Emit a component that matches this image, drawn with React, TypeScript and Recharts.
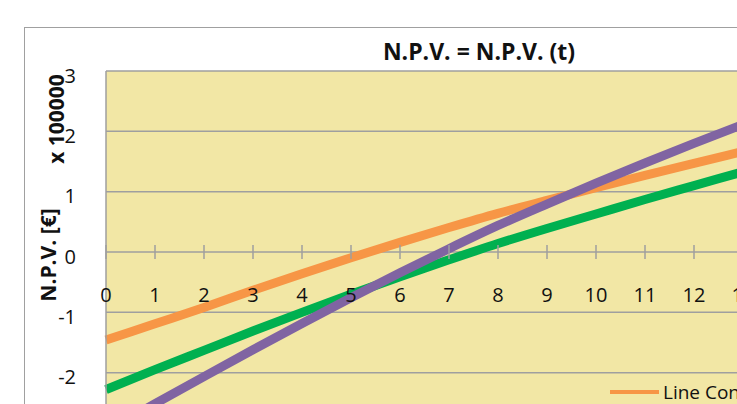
import React from 'react';
import {
  LineChart,
  Line,
  XAxis,
  YAxis,
  CartesianGrid,
  Legend,
  ReferenceDot,
  Label
} from 'recharts';

// years on the x axis
const years = [0, 1, 2, 3, 4, 5, 6, 7, 8, 9, 10, 11, 12, 13, 14];

// N.P.V. in units of 100000 €
const npvLine1 = [-1.46, -1.19, -0.92, -0.635, -0.36, -0.095, 0.16, 0.405, 0.64, 0.855, 1.065, 1.27, 1.47, 1.665, 1.86];
const npvLine2 = [-2.28, -1.95, -1.63, -1.31, -1.0, -0.7, -0.41, -0.13, 0.14, 0.39, 0.63, 0.87, 1.1, 1.33, 1.56];
const npvLine3 = [-2.97, -2.515, -2.065, -1.62, -1.185, -0.76, -0.345, 0.055, 0.44, 0.795, 1.14, 1.475, 1.8, 2.115, 2.42];

const seriesNames = ['Line Construction 1', 'Line Construction 2', 'Line Construction 3'];
const yTicks = [-3, -2, -1, 0, 1, 2, 3];

const FONT = '"Open Sans", Calibri, sans-serif';

const colors = {
  line1: '#F79646',
  line2: '#00B050',
  line3: '#8064A2',
  plot: '#F2E7A5',
  grid: '#9F9F9F',
  text: '#111'
};

const data = years.map((t, i) => ({
  t,
  line1: npvLine1[i],
  line2: npvLine2[i],
  line3: npvLine3[i]
}));

// tick mark crossing the zero line plus the year label under it
const YearTick = ({ cx, cy, payload }: any) => (
  <g>
    <line x1={cx} x2={cx} y1={cy - 7} y2={cy + 7} stroke={colors.grid} strokeWidth={1.5} />
    <text x={cx} y={cy + 50} textAnchor="middle" fontSize={20} fontFamily={FONT} fill={colors.text}>
      {payload}
    </text>
  </g>
);

const YAxisTitle = ({ viewBox }: any) => {
  const { x, y, height } = viewBox;
  return (
    <g fontFamily={FONT} fontWeight="bold" fontSize={21} fill={colors.text}>
      <text transform={`translate(${x + 24}, ${y + height / 2 + 3}) rotate(-90)`} textAnchor="middle" dominantBaseline="central">
        N.P.V. [€]
      </text>
      <text transform={`translate(${x + 32}, ${y + 48}) rotate(-90)`} textAnchor="middle" dominantBaseline="central">
        x 100000
      </text>
    </g>
  );
};

const YTickLabel = ({ x, y, payload }: any) => (
  <text x={x} y={y + 4} textAnchor="end" dominantBaseline="central" fontSize={20} fontFamily={FONT} fill={colors.text}>
    {payload.value}
  </text>
);

const NpvLegend = ({ payload }: any) => (
  <div style={{ display: 'flex', flexDirection: 'column', fontFamily: FONT, fontSize: 19, color: colors.text }}>
    {payload.map((p: any) => (
      <div key={p.value} style={{ display: 'flex', alignItems: 'center', height: 26, whiteSpace: 'nowrap' }}>
        <span style={{ display: 'inline-block', width: 49, height: 4, background: p.color, marginRight: 4 }} />
        <span>{p.value}</span>
      </div>
    ))}
  </div>
);

export default function App() {
  return (
    <div style={{ position: 'fixed', left: 0, top: 0, width: 737, height: 404, overflow: 'hidden', background: '#fff' }}>
      <div style={{ position: 'absolute', left: 24, top: 27, width: 900, height: 600, border: '1px solid #A0A0A0' }} />
      <div
        style={{
          position: 'absolute',
          left: 0,
          top: 35,
          width: 958,
          textAlign: 'center',
          fontFamily: FONT,
          fontWeight: 'bold',
          fontSize: 23,
          lineHeight: '32px',
          color: colors.text
        }}
      >
        N.P.V. = N.P.V. (t)
      </div>
      <div style={{ position: 'absolute', left: 0, top: 0 }}>
        <LineChart width={1000} height={600} data={data} margin={{ top: 71, right: 208, bottom: 167, left: 24 }}>
          <CartesianGrid vertical={false} stroke={colors.grid} strokeWidth={1.5} fill={colors.plot} />
          <XAxis type="number" dataKey="t" domain={[0, 14]} hide />
          <YAxis
            domain={[-3, 3]}
            ticks={yTicks}
            width={82}
            tickLine={false}
            axisLine={{ stroke: colors.grid, strokeWidth: 1.5 }}
            tick={<YTickLabel />}
            tickMargin={24}
            interval={0}
          >
            <Label content={<YAxisTitle />} />
          </YAxis>
          {years.map((t) => (
            <ReferenceDot key={t} x={t} y={0} r={0} shape={(props: any) => <YearTick {...props} payload={t} />} />
          ))}
          <Legend
            layout="vertical"
            align="center"
            verticalAlign="middle"
            content={<NpvLegend />}
            wrapperStyle={{ left: 610, top: 379, width: 300, height: 90 }}
          />
          <Line type="monotone" dataKey="line1" name={seriesNames[0]} stroke={colors.line1} strokeWidth={9} dot={false} isAnimationActive={false} />
          <Line type="monotone" dataKey="line2" name={seriesNames[1]} stroke={colors.line2} strokeWidth={9} dot={false} isAnimationActive={false} />
          <Line type="monotone" dataKey="line3" name={seriesNames[2]} stroke={colors.line3} strokeWidth={9} dot={false} isAnimationActive={false} />
        </LineChart>
      </div>
    </div>
  );
}
